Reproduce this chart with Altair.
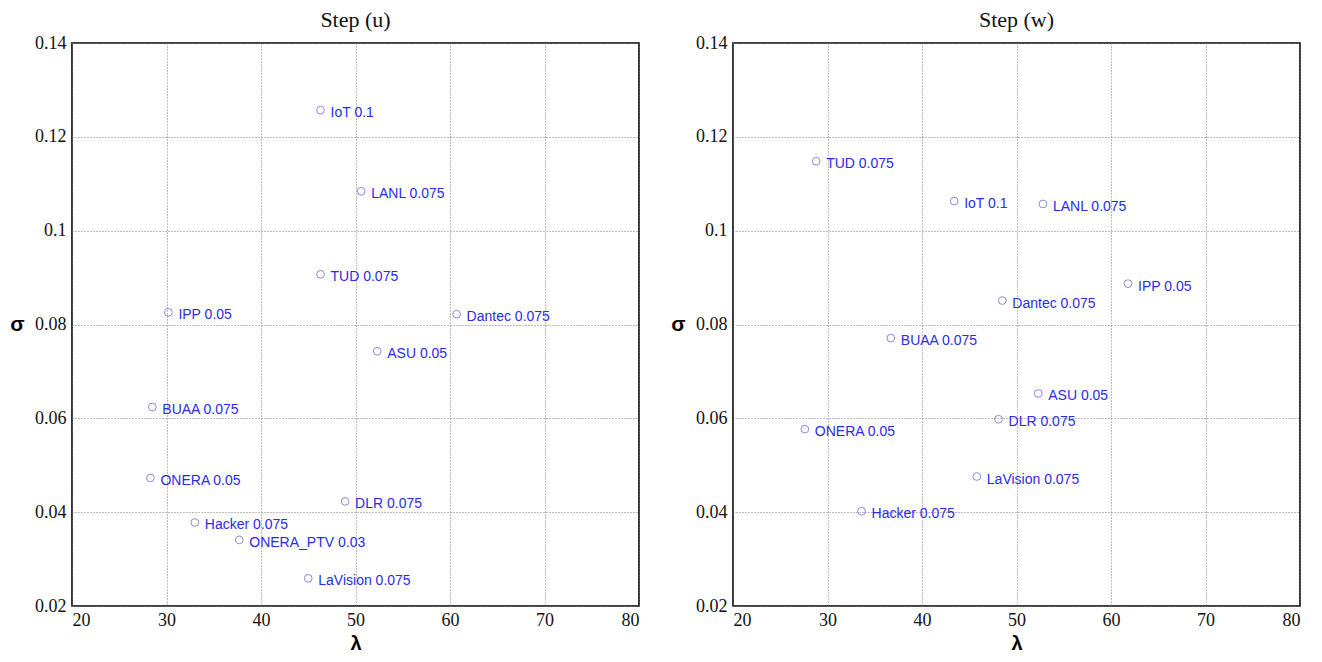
import altair as alt
import pandas as pd

# Step (u)
u_labels = ["IoT 0.1", "LANL 0.075", "TUD 0.075", "IPP 0.05", "Dantec 0.075", "ASU 0.05",
            "BUAA 0.075", "ONERA 0.05", "DLR 0.075", "Hacker 0.075", "ONERA_PTV 0.03", "LaVision 0.075"]
u_lambda = [46.3, 50.6, 46.3, 30.2, 60.7, 52.3, 28.5, 28.3, 48.9, 33.0, 37.7, 45.0]
u_sigma = [0.1257, 0.1084, 0.0907, 0.0826, 0.0822, 0.0743, 0.0624, 0.0473, 0.0423, 0.0378, 0.0341, 0.0259]

# Step (w)
w_labels = ["TUD 0.075", "IoT 0.1", "LANL 0.075", "IPP 0.05", "Dantec 0.075", "BUAA 0.075",
            "ASU 0.05", "DLR 0.075", "ONERA 0.05", "LaVision 0.075", "Hacker 0.075"]
w_lambda = [28.8, 43.4, 52.8, 61.8, 48.5, 36.7, 52.3, 48.1, 27.6, 45.8, 33.6]
w_sigma = [0.1148, 0.1063, 0.1057, 0.0887, 0.0851, 0.0771, 0.0653, 0.0598, 0.0577, 0.0476, 0.0402]

x_ticks = [20, 30, 40, 50, 60, 70, 80]
y_ticks = [0.02, 0.04, 0.06, 0.08, 0.1, 0.12, 0.14]

SERIF = "Liberation Serif, Times New Roman, serif"
SANS = "Liberation Sans, Arial, sans-serif"
W, H = 567, 563


def panel(title, labels, lam, sig):
    df = pd.DataFrame({"label": labels, "lam": lam, "sig": sig})
    x = alt.X("lam:Q", scale=alt.Scale(domain=[20, 80], nice=False, zero=False),
              axis=alt.Axis(values=x_ticks, title="λ", grid=True, gridDash=[1, 2],
                            gridColor="#777777", gridWidth=1, ticks=False, domain=False,
                            labelFont=SERIF, labelFontSize=18, labelColor="#111",
                            labelPadding=5, titleFont=SANS, titleFontSize=20,
                            titleFontWeight="bold", titlePadding=4, titleColor="#000"))
    y = alt.Y("sig:Q", scale=alt.Scale(domain=[0.02, 0.14], nice=False, zero=False),
              axis=alt.Axis(values=y_ticks, title="σ", grid=True, gridDash=[1, 2],
                            gridColor="#777777", gridWidth=1, ticks=False, domain=False,
                            labelFont=SERIF, labelFontSize=18, labelColor="#111",
                            labelPadding=6, labelExpr="format(datum.value, '~g')",
                            titleFont=SANS, titleFontSize=21, titleFontWeight="bold",
                            titleAngle=0, titleAlign="center", titleBaseline="middle",
                            titleX=-55, titleY=H / 2, titleColor="#000"))
    pts = alt.Chart(df).mark_point(shape="circle", filled=False, size=60,
                                   color="#5a5ad0", strokeWidth=1).encode(x=x, y=y)
    txt = alt.Chart(df).mark_text(align="left", baseline="middle", dx=10, dy=3,
                                  font=SANS, fontSize=14, color="#2b2be6").encode(
        x="lam:Q", y="sig:Q", text="label:N")
    return alt.layer(pts, txt).properties(
        width=W, height=H,
        title=alt.TitleParams(title, font=SERIF, fontSize=22, fontWeight="normal",
                              color="#111", offset=2))


chart = alt.hconcat(
    panel("Step (u)", u_labels, u_lambda, u_sigma),
    panel("Step (w)", w_labels, w_lambda, w_sigma),
    spacing=30,
).properties(
    padding={"left": 1, "top": 0, "right": 4, "bottom": 0}
).configure_view(
    stroke="#000", strokeWidth=1.6
)

chart.save("out.html", embed_options={"renderer": "svg", "actions": False})
